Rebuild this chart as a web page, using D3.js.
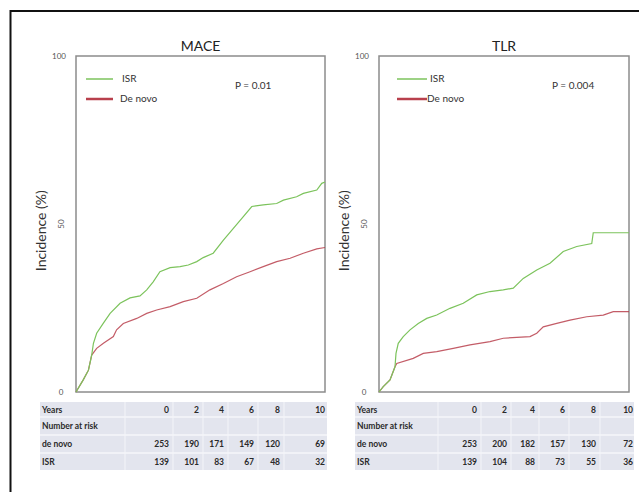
<!DOCTYPE html>
<html>
<head>
<meta charset="utf-8">
<script src="https://cdn.jsdelivr.net/npm/d3@7"></script>
<style>
  body { margin: 0; background: #fff; }
  text { font-family: Lato, "Open Sans", sans-serif; }
</style>
</head>
<body>
<div id="chart"></div>
<script>
const width = 639, height = 492;

// MACE curves: [years, incidence %]
const maceIsr = [[0,0],[0.29,3.6],[0.5,6.5],[0.63,11],[0.7,14.5],[0.83,17.5],[1.1,20.5],[1.37,23.4],[1.77,26.4],
  [2.17,28],[2.57,28.6],[2.84,30.4],[3.1,32.8],[3.37,35.8],[3.78,37],[4.18,37.3],[4.51,37.8],[4.85,38.8],[5.11,40],
  [5.51,41.3],[5.92,45.2],[6.32,48.7],[6.72,52.2],[7.06,55.2],[7.52,55.7],[8.06,56.1],[8.33,57.1],[8.86,58.1],
  [9.13,59.1],[9.67,60.1],[9.87,62.1],[10,62.5]];
const maceDenovo = [[0,0],[0.29,3.6],[0.5,6.5],[0.63,11],[0.83,13],[1.1,14.5],[1.5,16.5],[1.63,18.5],[1.9,20.4],
  [2.44,21.9],[2.84,23.4],[3.24,24.4],[3.78,25.4],[4.31,26.9],[4.85,27.9],[5.38,30.4],[5.92,32.3],[6.45,34.3],
  [6.99,35.8],[7.52,37.3],[8.06,38.8],[8.6,39.8],[9.13,41.3],[9.67,42.6],[10,43]];

// TLR curves
const tlrIsr = [[0,0],[0.17,1.6],[0.44,3.6],[0.64,7.5],[0.68,11.5],[0.77,14.5],[0.97,16.5],[1.24,18.5],[1.57,20.4],
  [1.91,21.9],[2.31,22.9],[2.84,24.9],[3.37,26.4],[3.91,28.9],[4.44,29.9],[4.97,30.4],[5.37,30.9],[5.77,33.8],
  [6.31,36.3],[6.84,38.3],[7.37,41.8],[7.91,43.3],[8.51,44.2],[8.57,47.4],[10,47.4]];
const tlrDenovo = [[0,0],[0.17,1.6],[0.44,3.6],[0.64,7.5],[0.71,8.5],[1.37,10],[1.77,11.5],[2.31,12],[2.97,13],
  [3.64,14],[4.44,15],[4.97,16],[6.04,16.5],[6.31,17.5],[6.57,19.4],[7.11,20.4],[7.64,21.4],[8.31,22.4],
  [8.97,22.9],[9.37,23.9],[10,23.9]];

const yTicks = [0, 50, 100];
const yearCols = [0, 2, 4, 6, 8, 10];
const rowLabels = ["Years", "Number at risk", "de novo", "ISR"];
const maceRisk = { denovo: [253, 190, 171, 149, 120, 69], isr: [139, 101, 83, 67, 48, 32] };
const tlrRisk = { denovo: [253, 200, 182, 157, 130, 72], isr: [139, 104, 88, 73, 55, 36] };

const green = "#7cc35c", red = "#b8404c";

const panels = [
  { title: "MACE", p: "P = 0.01", isr: maceIsr, denovo: maceDenovo, risk: maceRisk,
    x0: 76, x1: 325, ylab: 46,
    leg: { x: 86, len: 27, tx: 122, tx2: 120 }, px: 235,
    table: { x0: 40, x1: 327, split: 125, cols: [169, 199, 224, 254, 280, 325] } },
  { title: "TLR", p: "P = 0.004", isr: tlrIsr, denovo: tlrDenovo, risk: tlrRisk,
    x0: 379, x1: 629, ylab: 349,
    leg: { x: 397, len: 30, tx: 430, tx2: 427 }, px: 552,
    table: { x0: 355, x1: 634, split: 438, cols: [477, 507, 535, 565, 596, 633] } }
];

const svg = d3.select("#chart").append("svg")
  .attr("width", width).attr("height", height);

svg.append("rect").attr("width", width).attr("height", height).attr("fill", "#fff");

// outer frame (left and top edges visible)
svg.append("path")
  .attr("d", "M10.5,492V11H639")
  .attr("fill", "none").attr("stroke", "#111").attr("stroke-width", 2);

const y0 = 56, y1 = 392;
const rowEdges = [402, 417, 435, 453, 470];

panels.forEach(pn => {
  const x = d3.scaleLinear().domain([0, 10]).range([pn.x0, pn.x1]);
  const y = d3.scaleLinear().domain([0, 100]).range([y1, y0]);
  const g = svg.append("g");

  g.append("rect")
    .attr("x", pn.x0).attr("y", y0)
    .attr("width", pn.x1 - pn.x0).attr("height", y1 - y0)
    .attr("fill", "none").attr("stroke", "#8c8c8c").attr("stroke-width", 1.5);

  g.append("text")
    .attr("x", (pn.x0 + pn.x1) / 2).attr("y", 51)
    .attr("text-anchor", "middle").attr("font-size", 14).attr("fill", "#222")
    .text(pn.title);

  // y ticks
  g.selectAll(".ytick").data(yTicks).join("text")
    .attr("class", "ytick")
    .attr("font-size", 8).attr("fill", "#555")
    .attr("text-anchor", "middle")
    .attr("transform", d => d === 50
      ? `translate(${pn.x0 - 12},${y(d)}) rotate(-90)`
      : `translate(${pn.x0 - (d === 100 ? 17 : 15)},${y(d) + 3})`)
    .text(d => d);

  g.append("text")
    .attr("transform", `translate(${pn.ylab},${y(48)}) rotate(-90)`)
    .attr("text-anchor", "middle").attr("font-size", 14).attr("fill", "#333")
    .text("Incidence (%)");

  const line = d3.line().x(d => x(d[0])).y(d => y(d[1]));

  g.append("path").datum(pn.denovo).attr("d", line)
    .attr("fill", "none").attr("stroke", red).attr("stroke-width", 1.2).attr("opacity", 0.85);
  g.append("path").datum(pn.isr).attr("d", line)
    .attr("fill", "none").attr("stroke", green).attr("stroke-width", 1.2);

  // legend
  const lg = pn.leg;
  g.append("line").attr("x1", lg.x).attr("x2", lg.x + lg.len).attr("y1", 79).attr("y2", 79)
    .attr("stroke", green).attr("stroke-width", 1.5);
  g.append("text").attr("x", lg.tx).attr("y", 82).attr("font-size", 10).attr("fill", "#333").text("ISR");
  g.append("line").attr("x1", lg.x).attr("x2", lg.x + lg.len).attr("y1", 99).attr("y2", 99)
    .attr("stroke", red).attr("stroke-width", 2.5);
  g.append("text").attr("x", lg.tx2).attr("y", 102).attr("font-size", 10).attr("fill", "#333").text("De novo");

  g.append("text").attr("x", pn.px).attr("y", 89).attr("font-size", 10).attr("fill", "#333").text(pn.p);

  // number-at-risk table
  const t = pn.table;
  g.append("rect").attr("x", t.x0).attr("y", rowEdges[0])
    .attr("width", t.x1 - t.x0).attr("height", rowEdges[4] - rowEdges[0])
    .attr("fill", "#e3e5ee");
  g.selectAll(".rsep").data(rowEdges.slice(1, 4)).join("line")
    .attr("x1", t.x0).attr("x2", t.x1).attr("y1", d => d).attr("y2", d => d)
    .attr("stroke", "#fff").attr("stroke-width", 1.2);
  const seps = [t.split].concat(t.cols.slice(0, 5).map(c => c + 4));
  g.selectAll(".csep").data(seps).join("line")
    .attr("x1", d => d).attr("x2", d => d).attr("y1", rowEdges[0]).attr("y2", rowEdges[4])
    .attr("stroke", "#f4f5f9").attr("stroke-width", 1);

  const rows = [yearCols, null, pn.risk.denovo, pn.risk.isr];
  rowLabels.forEach((lab, i) => {
    const ty = (rowEdges[i] + rowEdges[i + 1]) / 2 + 3;
    g.append("text").attr("x", t.x0 + 2).attr("y", ty)
      .attr("font-size", 8.5).attr("font-weight", "bold").attr("fill", "#2a2a2a").text(lab);
    if (rows[i]) {
      g.selectAll(".c" + i).data(rows[i]).join("text")
        .attr("x", (d, j) => t.cols[j]).attr("y", ty)
        .attr("text-anchor", "end")
        .attr("font-size", 8.5).attr("font-weight", "bold").attr("fill", "#2a2a2a")
        .text(d => d);
    }
  });
});
</script>
</body>
</html>
